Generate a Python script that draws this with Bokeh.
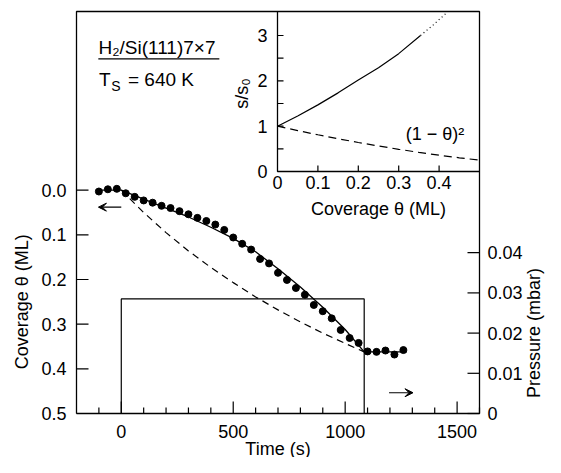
import math
from bokeh.plotting import figure
from bokeh.models import Range1d, Label, Arrow, VeeHead
from bokeh.core.properties import value
from bokeh.embed import file_html
from bokeh.resources import INLINE

FONT = "Liberation Sans"

# ---------------- data ----------------
# measured coverage (dots)
meas_time = [-100, -60, -20, 20, 60, 100, 140, 180, 220, 260, 300, 340, 380, 420,
             460, 500, 540, 580, 620, 660, 700, 740, 780, 820, 860, 900, 940, 980,
             1020, 1060, 1100, 1140, 1180, 1220, 1260]
meas_cov = [0.003, -0.002, -0.003, 0.007, 0.015, 0.023, 0.028, 0.035, 0.040, 0.047,
            0.054, 0.062, 0.069, 0.077, 0.089, 0.106, 0.120, 0.133, 0.154, 0.164,
            0.185, 0.201, 0.219, 0.234, 0.257, 0.271, 0.287, 0.313, 0.331, 0.342,
            0.361, 0.362, 0.359, 0.368, 0.358]

# solid fit curve
fit_time = [-115, 0, 100, 200, 300, 400, 500, 600, 700, 800, 900, 1000, 1085, 1275]
fit_cov = [0.0, 0.0, 0.020, 0.040, 0.060, 0.083, 0.108, 0.138, 0.176, 0.217, 0.262,
           0.312, 0.362, 0.362]

# dashed (1 - theta)^2 model curve
model_time = [0, 100, 200, 300, 400, 500, 600, 700, 800, 900, 1000, 1085]
model_cov = [0.0, 0.050, 0.095, 0.136, 0.173, 0.207, 0.239, 0.268, 0.295, 0.320,
             0.343, 0.362]

# pressure trace
pres_time = [0, 0, 1085, 1085]
pres_val = [0.0, 0.0285, 0.0285, 0.0]

# inset: sticking coefficient ratio s/s0 vs coverage
ins_theta = [0.0, 0.05, 0.10, 0.15, 0.20, 0.25, 0.30, 0.354]
ins_s = [1.0, 1.225, 1.47, 1.735, 2.02, 2.29, 2.60, 3.0]
ins_theta_ext = [0.354, 0.385, 0.416]
ins_s_ext = [3.0, 3.23, 3.48]
ins_sq_theta = [0.0, 0.05, 0.10, 0.15, 0.20, 0.25, 0.30, 0.35, 0.40, 0.45, 0.50]
ins_sq_s = [1.0, 0.9025, 0.81, 0.7225, 0.64, 0.5625, 0.49, 0.4225, 0.36, 0.3025, 0.25]

# ticks and tick labels
time_major = [0, 500, 1000, 1500]
time_major_labels = ["0", "500", "1000", "1500"]
time_minor = [-100, 100, 200, 300, 400, 600, 700, 800, 900, 1100, 1200, 1300, 1400, 1600]
cov_ticks = [0.0, 0.1, 0.2, 0.3, 0.4, 0.5]
cov_labels = ["0.0", "0.1", "0.2", "0.3", "0.4", "0.5"]
pres_ticks = [0.0, 0.01, 0.02, 0.03, 0.04]
pres_labels = ["0", "0.01", "0.02", "0.03", "0.04"]
ins_xticks = [0.1, 0.2, 0.3, 0.4]
ins_xlabel_pos = [0.0, 0.1, 0.2, 0.3, 0.4]
ins_xlabels = ["0", "0.1", "0.2", "0.3", "0.4"]
ins_yticks = [0.5, 1.0, 1.5, 2.0, 2.5, 3.0]
ins_ylabel_pos = [0, 1, 2, 3]
ins_ylabels = ["0", "1", "2", "3"]

# axis limits
T_MIN, T_MAX = -200, 1600
COV_TOP, COV_BOT = -0.4, 0.5
P_MIN, P_MAX = 0.0, 0.1
TH_MIN, TH_MAX = 0.0, 0.5
S_MIN, S_MAX = 0.0, 3.53

# ---------------- layout (canvas pixels) ----------------
W, H = 545, 457
FL, FR, FT, FB = 76, 479, 11, 413     # main plot box
IL, IB = 277, 171                     # inset box: left edge, bottom edge


def lin(px, v0, px0, v1, px1):
    return v0 + (px - px0) * (v1 - v0) / (px1 - px0)


def xr(v0, px0, v1, px1):
    return Range1d(lin(0, v0, px0, v1, px1), lin(W, v0, px0, v1, px1))


def yr(v0, px0, v1, px1):
    return Range1d(lin(H, v0, px0, v1, px1), lin(0, v0, px0, v1, px1))


p = figure(width=W, height=H, output_backend="svg", toolbar_location=None,
           x_axis_location=None, y_axis_location=None, min_border=0,
           x_range=xr(T_MIN, FL, T_MAX, FR),
           y_range=yr(COV_TOP, FT, COV_BOT, FB))
p.extra_y_ranges = {"p": yr(P_MAX, FT, P_MIN, FB),
                    "iy": yr(S_MAX, FT, S_MIN, IB)}
p.extra_x_ranges = {"ix": xr(TH_MIN, IL, TH_MAX, FR)}
p.grid.visible = False
p.outline_line_color = None
p.background_fill_color = "white"
p.border_fill_color = "white"

BLACK = "black"
TXT = dict(text_font=value(FONT), text_color=BLACK)


def label(x, y, text, size="18px", align="left", angle=0.0, xo=0, yo=0, **kw):
    return Label(x=x, y=y, text=text, text_font=FONT, text_font_size=size,
                 text_baseline="middle", text_align=align, text_color=BLACK,
                 angle=angle, x_offset=xo, y_offset=yo, **kw)


# ---------------- main plot box and axes ----------------
P = dict(y_range_name="p")
p.line([T_MIN, T_MAX, T_MAX, T_MIN, T_MIN], [P_MIN, P_MIN, P_MAX, P_MAX, P_MIN],
       line_color=BLACK, line_width=1.3, **P)
# bottom (time) ticks pointing inwards
p.ray(x=time_major, y=[P_MIN] * len(time_major), length=12, length_units="screen",
      angle=math.pi / 2, line_color=BLACK, line_width=1.2, **P)
p.ray(x=time_minor, y=[P_MIN] * len(time_minor), length=6, length_units="screen",
      angle=math.pi / 2, line_color=BLACK, line_width=1.2, **P)
p.text(x=time_major, y=[P_MIN] * len(time_major), text=time_major_labels,
       text_font_size=value("18px"), text_align="center", text_baseline="middle",
       y_offset=18, **TXT, **P)
# left (coverage) ticks
p.ray(x=[T_MIN] * len(cov_ticks), y=cov_ticks, length=12, length_units="screen",
      angle=0, line_color=BLACK, line_width=1.2)
p.text(x=[T_MIN] * len(cov_ticks), y=cov_ticks, text=cov_labels,
       text_font_size=value("18px"), text_align="right", text_baseline="middle",
       x_offset=-10, **TXT)
# right (pressure) ticks
p.ray(x=[T_MAX] * len(pres_ticks), y=pres_ticks, length=12, length_units="screen",
      angle=math.pi, line_color=BLACK, line_width=1.2, **P)
p.text(x=[T_MAX] * len(pres_ticks), y=pres_ticks, text=pres_labels,
       text_font_size=value("18px"), text_align="left", text_baseline="middle",
       x_offset=8, **TXT, **P)

# axis titles
p.add_layout(label(T_MIN, 0.25, "Coverage θ (ML)", align="center",
                   angle=math.pi / 2, xo=-55))
p.add_layout(label(T_MAX, 0.02, "Pressure (mbar)", align="center",
                   angle=math.pi / 2, xo=54, y_range_name="p"))
p.add_layout(label((T_MIN + T_MAX) / 2, COV_BOT, "Time (s)", align="center", yo=-35))

# ---------------- main curves ----------------
p.line(pres_time, pres_val, line_color=BLACK, line_width=1.2, **P)
p.line(model_time, model_cov, line_color=BLACK, line_width=1.2, line_dash="7 5")
p.line(fit_time, fit_cov, line_color=BLACK, line_width=1.3)
p.scatter(meas_time, meas_cov, size=7, color=BLACK)

# arrows pointing to the relevant axes
p.add_layout(Arrow(x_start=0, y_start=0.038, x_end=-102, y_end=0.038,
                   line_color=BLACK, line_width=1.2,
                   end=VeeHead(size=8, fill_color=BLACK, line_color=BLACK)))
p.add_layout(Arrow(x_start=1196, y_start=0.4535, x_end=1303, y_end=0.4535,
                   line_color=BLACK, line_width=1.2,
                   end=VeeHead(size=8, fill_color=BLACK, line_color=BLACK)))

# text block
p.add_layout(label(-102, -0.320, "H₂/Si(111)7×7", size="19px"))
p.add_layout(Arrow(x_start=-102.5, y_start=-0.294, x_end=438, y_end=-0.294,
                   line_color=BLACK, line_width=1.3, start=None, end=None))
p.add_layout(label(-100, -0.247, "T", size="19px"))
p.add_layout(label(-45, -0.233, "S", size="14px"))
p.add_layout(label(30, -0.247, "= 640 K", size="19px"))

# ---------------- inset ----------------
IR = dict(x_range_name="ix", y_range_name="iy")
p.line([TH_MIN, TH_MIN, TH_MAX], [S_MAX, S_MIN, S_MIN], line_color=BLACK,
       line_width=1.3, **IR)
p.ray(x=[TH_MIN] * len(ins_yticks), y=ins_yticks, length=6, length_units="screen",
      angle=0, line_color=BLACK, line_width=1.2, **IR)
p.ray(x=ins_xticks, y=[S_MIN] * len(ins_xticks), length=6, length_units="screen",
      angle=math.pi / 2, line_color=BLACK, line_width=1.2, **IR)
p.text(x=[TH_MIN] * len(ins_ylabel_pos), y=ins_ylabel_pos, text=ins_ylabels,
       text_font_size=value("18px"), text_align="right", text_baseline="middle",
       x_offset=-10, **TXT, **IR)
p.text(x=ins_xlabel_pos, y=[S_MIN] * len(ins_xlabel_pos), text=ins_xlabels,
       text_font_size=value("18px"), text_align="center", text_baseline="middle",
       y_offset=11, **TXT, **IR)
p.add_layout(label((TH_MIN + TH_MAX) / 2, S_MIN, "Coverage θ (ML)", align="center",
                   yo=-37, **IR))
p.add_layout(label(TH_MIN, 1.72, "s/s₀", align="center", angle=math.pi / 2,
                   xo=-36, **IR))

p.line(ins_theta, ins_s, line_color=BLACK, line_width=1.2, **IR)
p.line(ins_theta_ext, ins_s_ext, line_color=BLACK, line_width=1.2,
       line_dash="1 3", **IR)
p.line(ins_sq_theta, ins_sq_s, line_color=BLACK, line_width=1.2,
       line_dash="8 5", **IR)
p.add_layout(label(0.39, 0.82, "(1 − θ)²", size="18px", align="center", **IR))

open("out.html", "w").write(file_html(p, INLINE))
